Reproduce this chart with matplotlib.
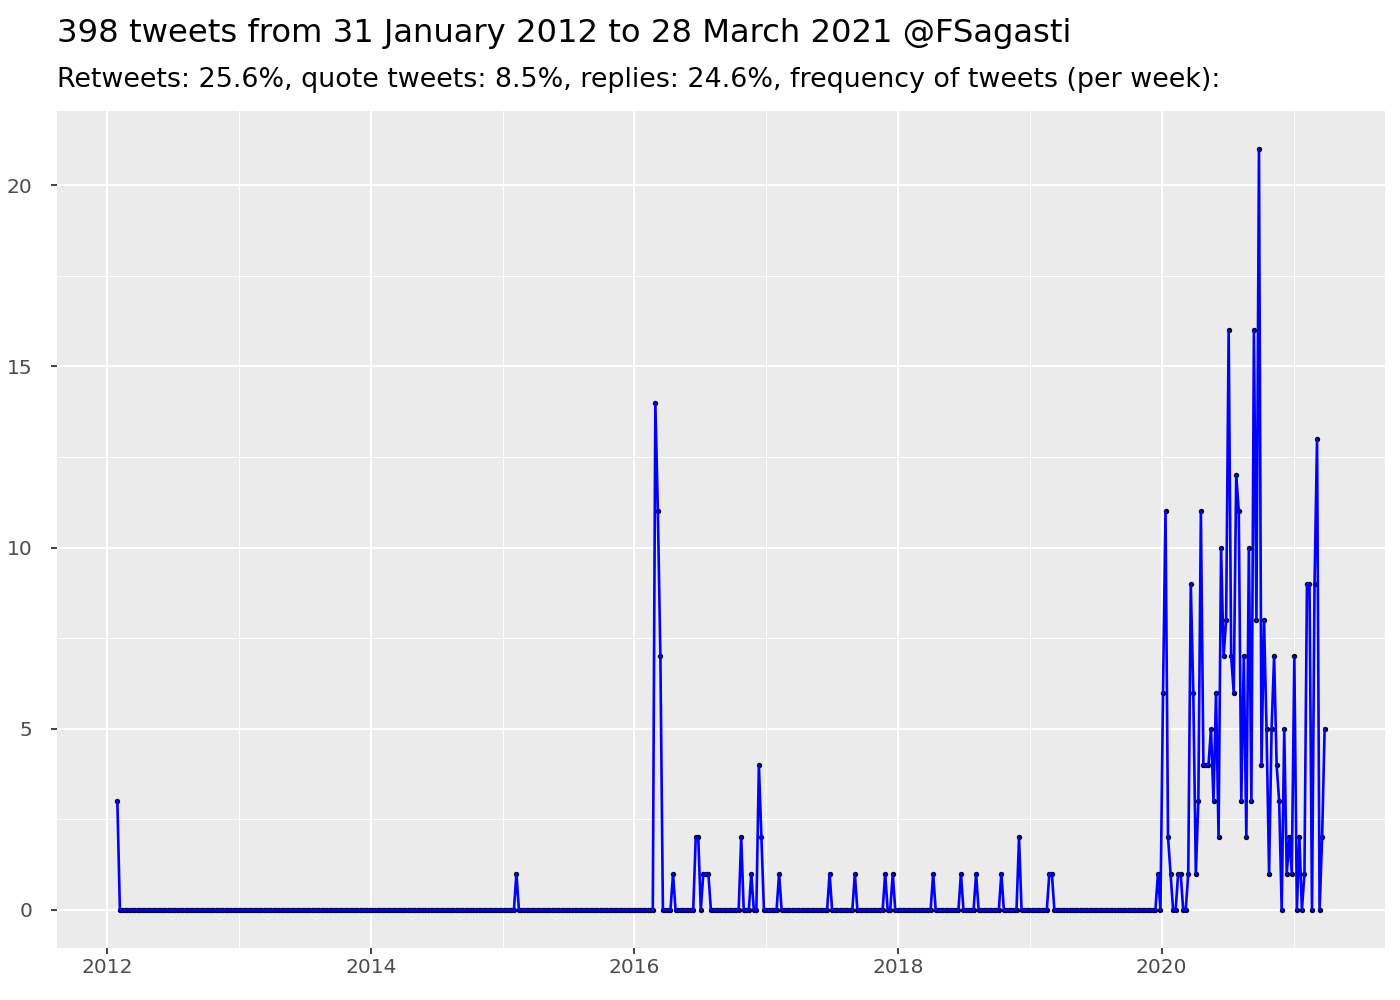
import matplotlib
matplotlib.use("Agg")
import matplotlib.pyplot as plt
import matplotlib.dates as mdates
from matplotlib.ticker import MultipleLocator
import pandas as pd
import numpy as np

# ---------------- data ----------------
title_text = "398 tweets from 31 January 2012 to 28 March 2021 @FSagasti"
subtitle_text = ("Retweets: 25.6%, quote tweets: 8.5%, replies: 24.6%, "
                 "frequency of tweets (per week):")

first_week = "2012-01-29"
last_week = "2021-03-28"

# weeks with tweets before 2020 (all other weeks are 0)
early_dates = ["2012-01-29", "2015-02-08", "2016-02-28", "2016-03-06", "2016-03-13",
               "2016-04-17", "2016-06-19", "2016-06-26", "2016-07-10", "2016-07-17",
               "2016-07-24", "2016-10-23", "2016-11-20", "2016-12-11", "2016-12-18",
               "2017-02-05", "2017-06-25", "2017-09-03", "2017-11-26", "2017-12-17",
               "2018-04-08", "2018-06-24", "2018-08-05", "2018-10-14", "2018-12-02",
               "2019-02-24", "2019-03-03", "2019-12-22"]
early_counts = [3, 1, 14, 11, 7,
                1, 2, 2, 1, 1,
                1, 2, 1, 4, 2,
                1, 1, 1, 1, 1,
                1, 1, 1, 1, 2,
                1, 1, 1]

# every week from 2020-01-05 to 2021-03-28
recent_start = "2020-01-05"
recent_counts = [6, 11, 2, 1, 0, 0, 1, 1, 0, 0,
                 1, 9, 6, 1, 3, 11, 4, 4, 4, 5,
                 3, 6, 2, 10, 7, 8, 16, 7, 6, 12,
                 11, 3, 7, 2, 10, 3, 16, 8, 21, 4,
                 8, 5, 1, 5, 7, 4, 3, 0, 5, 1,
                 2, 1, 7, 0, 2, 0, 1, 9, 9, 0,
                 9, 13, 0, 2, 5]

x_tick_years = [2012, 2014, 2016, 2018, 2020]

# ---------------- build series ----------------
weeks = pd.date_range(first_week, last_week, freq="W-SUN")
series = pd.Series(0, index=weeks, dtype=float)
series.loc[pd.to_datetime(early_dates)] = early_counts
recent_idx = pd.date_range(recent_start, periods=len(recent_counts), freq="W-SUN")
series.loc[recent_idx] = recent_counts

# ---------------- figure ----------------
plt.rcParams["font.family"] = ["DejaVu Sans"]
W, H = 1400, 1000
fig = plt.figure(figsize=(W / 100, H / 100), dpi=100)
fig.patch.set_facecolor("white")

left, right, top, bottom = 57, 1385, 111, 948
ax = fig.add_axes([left / W, 1 - bottom / H, (right - left) / W, (bottom - top) / H])
ax.set_facecolor("#EBEBEB")
for s in ax.spines.values():
    s.set_visible(False)

xd = mdates.date2num(series.index.to_pydatetime())
yv = series.values

ax.scatter(xd, yv, s=15, color="black", zorder=2, linewidths=0)
ax.plot(xd, yv, color="blue", lw=1.9, zorder=3, solid_joinstyle="round")

# limits with ggplot-style 5% expansion
x0, x1 = xd.min(), xd.max()
ax.set_xlim(x0 - 0.05 * (x1 - x0), x1 + 0.05 * (x1 - x0))
y0, y1 = 0, yv.max()
ax.set_ylim(y0 - 0.05 * (y1 - y0), y1 + 0.05 * (y1 - y0))

# ticks
major_x = [mdates.date2num(pd.Timestamp(f"{y}-01-01")) for y in x_tick_years]
minor_x = [mdates.date2num(pd.Timestamp(f"{y + 1}-01-01")) for y in x_tick_years]
ax.set_xticks(major_x)
ax.set_xticklabels([str(y) for y in x_tick_years])
ax.set_xticks(minor_x, minor=True)
ax.yaxis.set_major_locator(MultipleLocator(5))
ax.yaxis.set_minor_locator(MultipleLocator(2.5))

ax.grid(which="major", color="white", lw=1.5)
ax.grid(which="minor", color="white", lw=0.75)
ax.set_axisbelow(True)

ax.tick_params(which="major", length=4.3, width=1.3, color="#333333",
               labelcolor="#4D4D4D", labelsize=14.5)
ax.tick_params(axis="x", which="major", pad=3)
ax.tick_params(axis="y", which="major", pad=13.5)
ax.tick_params(which="minor", length=0)

# titles
fig.text(57 / W, 1 - 42 / H, title_text, fontsize=23.2, color="black", va="baseline", ha="left")
fig.text(57 / W, 1 - 87 / H, subtitle_text, fontsize=19.4, color="black", va="baseline", ha="left")

fig.savefig("out.png", dpi=100)
